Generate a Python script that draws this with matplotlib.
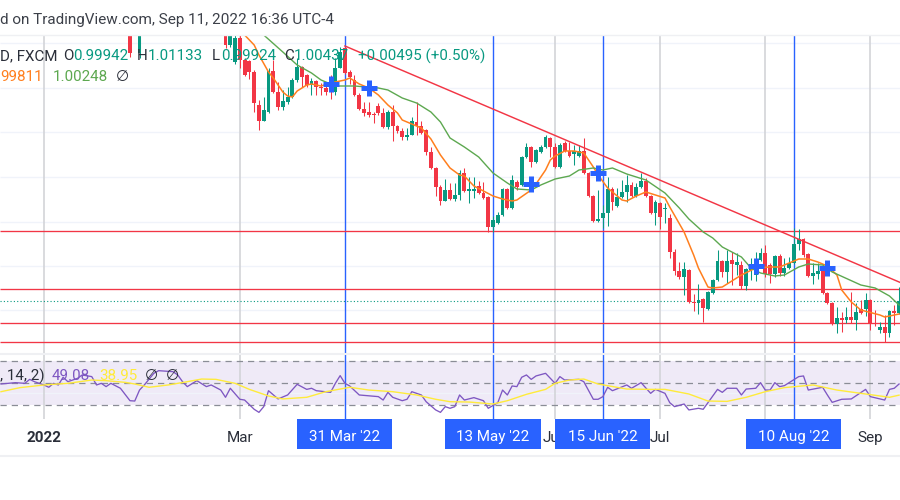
import matplotlib
matplotlib.use("Agg")
import matplotlib.pyplot as plt
from matplotlib.lines import Line2D

plt.rcParams['font.family'] = ['Roboto', 'DejaVu Sans']

# candles, bar number counted from the first bar of 2022; prices as height above the pane floor
bars = [18, 20] + list(range(38, 180))
opens = [333, 300,
         328, 308, 291, 315, 293, 292, 281, 248, 232, 241,
         282, 261, 246, 251, 256, 273, 286, 278, 268, 272,
         266, 265, 276, 261, 285, 305, 281, 273, 258, 244,
         241, 239, 247, 240, 226, 241, 227, 222, 216, 218,
         231, 227, 223, 201, 185, 166, 152, 163, 154, 158,
         180, 162, 162, 167, 160, 156, 126, 130, 138, 164,
         145, 171, 168, 196, 206, 191, 201, 206, 215, 206,
         186, 210, 202, 199, 197, 202, 180, 157, 132, 135,
         140, 164, 147, 156, 161, 168, 157, 166, 172, 157,
         140, 150, 144, 135, 101, 82, 76, 83, 51, 50,
         54, 44, 60, 73, 92, 81, 93, 88, 88, 67,
         83, 78, 93, 100, 88, 79, 97, 80, 85, 90,
         109, 114, 99, 77, 79, 84, 60, 50, 29, 35,
         33, 36, 33, 44, 44, 53, 30, 23, 26, 20,
         42, 40]
highs = [338, 338,
         333, 333, 318, 319, 295, 293, 283, 253, 256, 285,
         293, 271, 263, 266, 275, 295, 287, 279, 275, 273,
         270, 267, 278, 295, 306, 306, 283, 278, 260, 251,
         251, 241, 250, 245, 243, 248, 228, 225, 225, 236,
         251, 232, 224, 206, 186, 168, 174, 170, 170, 183,
         185, 176, 176, 172, 171, 157, 137, 141, 165, 165,
         178, 173, 197, 210, 207, 204, 208, 218, 216, 210,
         210, 212, 211, 208, 208, 215, 181, 158, 163, 148,
         176, 166, 165, 173, 178, 171, 170, 180, 175, 158,
         153, 151, 150, 139, 104, 91, 91, 84, 59, 69,
         55, 62, 74, 103, 93, 103, 101, 100, 92, 85,
         95, 101, 105, 108, 90, 98, 99, 95, 96, 125,
         124, 115, 100, 90, 90, 85, 61, 51, 46, 41,
         46, 61, 50, 53, 60, 54, 43, 31, 38, 43,
         48, 66]
lows = [296, 295,
        305, 306, 289, 285, 277, 274, 241, 223, 232, 240,
        260, 243, 243, 249, 255, 271, 266, 266, 258, 258,
        258, 258, 254, 258, 285, 279, 269, 257, 243, 237,
        236, 230, 238, 225, 224, 212, 220, 213, 213, 218,
        218, 219, 198, 184, 157, 148, 152, 153, 152, 153,
        161, 150, 155, 159, 154, 121, 121, 129, 137, 144,
        144, 163, 167, 195, 186, 190, 200, 205, 196, 185,
        185, 201, 196, 188, 196, 179, 156, 131, 131, 125,
        127, 143, 146, 155, 151, 156, 156, 165, 156, 139,
        128, 124, 130, 95, 78, 74, 58, 50, 42, 39,
        31, 43, 59, 72, 76, 70, 68, 78, 64, 63,
        73, 72, 92, 76, 70, 76, 77, 77, 84, 89,
        103, 96, 76, 69, 74, 59, 49, 28, 20, 21,
        30, 30, 23, 39, 37, 23, 27, 20, 11, 16,
        28, 39]
closes = [300, 333,
          308, 328, 315, 293, 278, 281, 250, 232, 243, 282,
          261, 246, 252, 256, 273, 286, 276, 268, 272, 266,
          265, 261, 261, 285, 301, 280, 276, 258, 244, 240,
          238, 238, 240, 226, 241, 227, 222, 216, 218, 232,
          227, 220, 201, 185, 166, 152, 163, 154, 158, 180,
          162, 164, 164, 160, 155, 126, 133, 138, 164, 145,
          173, 166, 196, 206, 191, 203, 206, 216, 206, 186,
          208, 202, 197, 202, 202, 180, 157, 132, 134, 140,
          164, 151, 156, 161, 168, 157, 166, 172, 157, 140,
          151, 136, 145, 101, 82, 76, 84, 51, 50, 53,
          45, 61, 73, 92, 81, 92, 89, 91, 67, 84,
          85, 93, 100, 79, 79, 97, 80, 85, 90, 109,
          114, 98, 77, 80, 82, 60, 50, 29, 35, 33,
          36, 33, 41, 40, 53, 30, 29, 26, 20, 42,
          40, 52]

# moving averages
ema_bars = [40, 42, 44, 45, 47, 48, 49, 50, 51, 52, 53, 55, 56, 58, 60, 63, 64, 66, 68, 70,
            72, 74, 75, 77, 79, 81, 83, 85, 87, 88, 90, 92, 94, 96, 98, 99, 102, 103, 105, 106,
            107, 109, 111, 113, 115, 116, 118, 119, 121, 122, 124, 126, 128, 130, 131, 134, 136, 137, 139, 140,
            142, 144, 146, 149, 152, 154, 158, 160, 162, 164, 166, 167, 169, 171, 175, 176, 178, 179]
ema_fast = [325, 318, 308, 298, 281, 275, 268, 261, 257, 256, 262, 268, 269, 267, 270, 273, 275, 269, 265, 258,
            248, 240, 233, 229, 225, 214, 198, 185, 178, 177, 167, 162, 157, 154, 152, 153, 163, 169, 183, 193,
            197, 202, 202, 200, 186, 178, 165, 161, 153, 152, 157, 161, 158, 155, 146, 121, 98, 85, 66, 65,
            66, 72, 78, 85, 86, 86, 94, 94, 91, 87, 78, 63, 51, 43, 38, 36, 38, 39]

sma_bars = [46, 50, 53, 56, 58, 61, 65, 70, 72, 75, 78, 81, 83, 85, 88, 91, 94, 97, 99, 102,
            104, 107, 110, 112, 115, 117, 119, 122, 126, 130, 133, 135, 138, 140, 142, 146, 148, 150, 153, 155,
            158, 160, 163, 165, 171, 174, 177, 179]
sma_slow = [318, 301, 288, 280, 273, 267, 267, 265, 263, 255, 250, 241, 231, 215, 206, 196, 180, 170, 164, 163,
            168, 174, 177, 183, 185, 183, 185, 179, 173, 160, 145, 134, 121, 115, 106, 96, 85, 80, 77, 78,
            86, 89, 88, 81, 68, 65, 57, 48]

# RSI pane
rsi_bars = [-9, -6, -4, -3, -2, 0, 1, 2, 3, 4, 5, 7, 8, 10, 11, 12, 13, 14, 16, 18,
            19, 20, 21, 23, 24, 27, 28, 29, 30, 32, 34, 35, 37, 38, 39, 41, 42, 44, 45, 46,
            47, 49, 51, 53, 55, 56, 57, 60, 61, 62, 63, 64, 66, 70, 71, 72, 73, 75, 76, 77,
            79, 80, 82, 83, 84, 85, 86, 87, 88, 90, 92, 93, 95, 96, 97, 98, 99, 100, 101, 102,
            103, 105, 107, 108, 109, 112, 113, 115, 116, 117, 118, 119, 122, 123, 125, 127, 128, 130, 131, 132,
            134, 135, 137, 138, 141, 142, 143, 145, 146, 147, 149, 150, 151, 152, 153, 154, 155, 158, 159, 160,
            163, 164, 165, 167, 169, 172, 173, 176, 177, 178, 179]
rsi = [49.1, 50.3, 49.7, 53.3, 51.2, 48.2, 46.1, 49.7, 48.2, 55.2, 51.2, 54.2, 57.3, 55.8, 48.2, 49.7, 46.7, 49.7, 45.2, 33.9,
       33.6, 43.6, 48.2, 58.8, 61.2, 60.3, 57.3, 51.2, 46.7, 52.1, 46.7, 48.2, 43.6, 37.0, 45.2, 35.2, 34.5, 26.1, 23.3, 28.5,
       43.0, 35.5, 39.1, 48.8, 44.2, 45.2, 43.0, 41.5, 49.7, 56.7, 49.7, 47.3, 39.1, 37.6, 34.5, 41.5, 37.0, 33.9, 35.2, 42.1,
       39.1, 33.0, 25.5, 23.3, 28.5, 27.0, 28.5, 39.1, 34.5, 36.7, 33.9, 27.0, 32.1, 43.6, 39.1, 47.3, 46.7, 55.2, 57.3, 53.3,
       56.4, 58.8, 49.7, 55.8, 52.7, 53.3, 51.2, 35.2, 35.2, 37.6, 46.1, 43.0, 48.2, 45.2, 50.3, 40.6, 44.2, 40.6, 32.1, 28.5,
       30.9, 25.5, 27.0, 26.1, 44.2, 41.5, 45.2, 45.2, 39.1, 44.5, 45.2, 50.3, 43.6, 43.6, 50.3, 46.7, 47.6, 55.8, 56.4, 43.6,
       46.1, 39.1, 32.4, 35.2, 35.5, 44.2, 37.6, 34.5, 44.2, 45.2, 49.08]
rsi_ma_bars = [-9, -5, 0, 5, 10, 13, 17, 19, 22, 26, 30, 33, 36, 40, 43, 47, 50, 55, 59, 64,
               68, 73, 78, 82, 85, 89, 94, 97, 101, 105, 107, 110, 113, 116, 122, 127, 130, 135, 139, 143,
               147, 151, 155, 161, 166, 172, 177, 179]
rsi_ma = [42.1, 45.8, 48.2, 49.7, 52.7, 52.1, 50.6, 49.1, 46.1, 48.2, 51.2, 53.6, 53.3, 49.7, 44.2, 38.2, 35.5, 37.0, 42.1, 46.1,
          43.6, 42.1, 39.1, 35.2, 33.0, 32.7, 30.9, 33.9, 39.7, 44.2, 49.7, 52.7, 53.6, 49.1, 44.5, 44.2, 44.2, 40.0, 33.6, 33.3,
          37.0, 42.1, 45.8, 48.2, 43.6, 40.0, 37.0, 38.95]
rsi_levels = [70, 50, 30]

# levels and drawings
support_levels = [122, 64.5, 30, 11]
last_close = 52
trend_bars = [63, 180]
trend_values = [307, 69]
grid_levels = [310, 265, 221, 176, 131.5, 87, 43]
signal_bars = [63, 94, 117, 157]
signal_labels = ["31 Mar '22", "13 May '22", "15 Jun '22", "10 Aug '22"]
cross_bars = [60, 68, 102, 116, 149, 164]
cross_values = [269, 265, 169, 180, 87, 85]
tick_bars = [0, 41, 107, 129, 151, 173]
tick_labels = ['2022', 'Mar', 'Jun', 'Jul', '', 'Sep']

RED = '#F23645'
GREEN = '#089981'
BLUE = '#2962FF'
ORANGE = '#FF7F1E'
MA_GREEN = '#5DA850'
PURPLE = '#7E57C2'
YELLOW = '#FFEB3B'
GRID = '#F0F3FA'
VGRID = '#D3D4D8'
INK = '#2A2E39'

W, H = 900, 500
xlim = (-9.21, 179.2)


def pane(top, bottom):
    ax = fig.add_axes([0, 1 - bottom / H, 1, (bottom - top) / H])
    ax.set_xlim(xlim)
    ax.axis('off')
    return ax


def label(x, y, s, **kw):
    fig.text(x / W, 1 - y / H, s, va='center', fontsize=10.9, **kw)


fig = plt.figure(figsize=(9, 5), dpi=100, facecolor='white')

# price pane
ax1 = pane(35, 353)
ax1.set_ylim(0, 318)
ax1.hlines(grid_levels, *xlim, color=GRID, lw=1, zorder=1)
ax1.vlines(tick_bars, 0, 318, color=VGRID, lw=1.2, zorder=1)
ax1.vlines(signal_bars, 0, 318, color=BLUE, lw=1, zorder=2)
ax1.hlines(support_levels, *xlim, color=RED, lw=0.95, zorder=2)
ax1.hlines(last_close, *xlim, color=GREEN, lw=0.8, linestyles=(0, (1, 2)), zorder=2)

colors = [GREEN if c >= o else RED for o, c in zip(opens, closes)]
ax1.vlines(bars, lows, highs, color=colors, lw=0.75, zorder=3)
ax1.bar(bars, [abs(c - o) for o, c in zip(opens, closes)],
        bottom=[min(o, c) for o, c in zip(opens, closes)],
        width=0.8, color=colors, zorder=3)

ax1.plot(ema_bars, ema_fast, color=ORANGE, lw=1.1, zorder=4)
ax1.plot(sma_bars, sma_slow, color=MA_GREEN, lw=1.0, zorder=4)
ax1.plot(trend_bars, trend_values, color=RED, lw=1.05, zorder=4)
ax1.plot(cross_bars, cross_values, ls='', marker='+', ms=11, mew=3.6, color=BLUE, zorder=5)

# RSI pane
ax2 = pane(353, 419)
ax2.set_ylim(17.27, 77.27)
ax2.axhspan(rsi_levels[2], rsi_levels[0], color=PURPLE, alpha=0.12, lw=0, zorder=1)
ax2.hlines(40.9, *xlim, color=GRID, lw=1, zorder=1)
ax2.vlines(tick_bars, 17.27, 77.27, color=VGRID, lw=1.2, zorder=2)
ax2.vlines(signal_bars, 17.27, 77.27, color=BLUE, lw=1, zorder=2)
ax2.hlines(rsi_levels, *xlim, color='#8A8D96', lw=0.9, linestyles=(0, (5, 4)), zorder=2)
ax2.plot(rsi_bars, rsi, color=PURPLE, lw=0.95, zorder=3)
ax2.plot(rsi_ma_bars, rsi_ma, color=YELLOW, lw=1.0, zorder=3)

# time scale
ax3 = pane(419, 455)
ax3.set_ylim(36, 0)
for b, t in zip(tick_bars, tick_labels):
    ax3.text(b, 18.8, t, ha='center', va='center', fontsize=11, color=INK,
             fontweight='bold' if t == '2022' else 'normal', zorder=1)
ax3.bar(signal_bars, 30, width=19.9, bottom=0, color=BLUE, zorder=2)
for b, t in zip(signal_bars, signal_labels):
    ax3.text(b, 18, t, ha='center', va='center', fontsize=11, color='white', zorder=3)

# pane separators
for y, lw in [(34.5, 1.0), (353.5, 1.5), (455.5, 1.5)]:
    fig.add_artist(Line2D([0, 1], [1 - y / H, 1 - y / H], color='#EFF0F3', lw=lw))

# header and legends
fig.text(0, 1 - 20 / H, 'd on TradingView.com, Sep 11, 2022 16:36 UTC-4', va='center', fontsize=11, color='#3C4049')
label(0, 56, 'D, FXCM', color=INK)
for x, s, c in [(63, 'O', INK), (73, '0.99942', GREEN), (136.5, 'H', INK), (148, '1.01133', GREEN),
                (212, 'L', INK), (221, '0.99924', GREEN), (284, 'C', INK), (294, '1.00437', GREEN),
                (358, '+0.00495 (+0.50%)', GREEN)]:
    label(x, 56, s, color=c)
label(0, 77, '99811', color=ORANGE)
label(53, 77, '1.00248', color=MA_GREEN)
label(116, 77, '\u2205', color=INK)
label(0, 376, ', 14, 2)', color=INK)
label(52, 376, '49.08', color=PURPLE)
label(99, 376, '38.95', color=YELLOW)
label(145, 376, '\u2205', color=INK)
label(166, 376, '\u2205', color=INK)

fig.savefig('out.png', dpi=100)
